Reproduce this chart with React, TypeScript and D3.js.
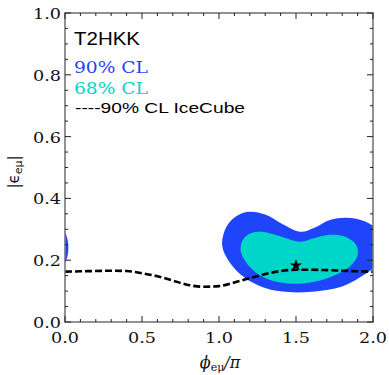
import React from "react";
import * as d3 from "d3";

const W = 389, H = 375;
const margin = { left: 65, top: 13, right: 16, bottom: 53 };

const xTicksMajor = [0, 0.5, 1.0, 1.5, 2.0];
const yTicksMajor = [0, 0.2, 0.4, 0.6, 0.8, 1.0];

// IceCube 90% CL curve
const iceX = [0, 0.1, 0.2, 0.3, 0.4, 0.5, 0.6, 0.7, 0.8, 0.9, 1.0, 1.1, 1.2, 1.3, 1.4, 1.5, 1.6, 1.7, 1.8, 1.9, 2.0];
const iceY = [0.163, 0.164, 0.165, 0.166, 0.165, 0.158, 0.148, 0.134, 0.12, 0.114, 0.116, 0.128, 0.142, 0.155, 0.165, 0.169, 0.169, 0.168, 0.166, 0.164, 0.163];

// 90% CL region outline (main blob)
const cl90X = [1.02, 1.05, 1.12, 1.2, 1.3, 1.42, 1.53, 1.62, 1.72, 1.83, 1.95, 2.05, 2.1, 2.04, 1.95, 1.8, 1.6, 1.45, 1.3, 1.15, 1.06];
const cl90Y = [0.25, 0.31, 0.345, 0.357, 0.348, 0.315, 0.292, 0.305, 0.33, 0.337, 0.325, 0.29, 0.24, 0.19, 0.155, 0.115, 0.098, 0.097, 0.11, 0.15, 0.2];
// 90% CL region piece wrapping at phi = 0
const cl90bX = [0, 0.015, 0.022, 0.015, 0, -0.02];
const cl90bY = [0.29, 0.27, 0.24, 0.21, 0.193, 0.24];

// 68% CL region outline
const cl68X = [1.14, 1.16, 1.21, 1.28, 1.38, 1.53, 1.62, 1.72, 1.82, 1.89, 1.9, 1.85, 1.72, 1.55, 1.4, 1.27, 1.18];
const cl68Y = [0.233, 0.27, 0.288, 0.292, 0.28, 0.26, 0.272, 0.282, 0.276, 0.25, 0.215, 0.18, 0.145, 0.125, 0.128, 0.15, 0.19];

const bestFit = { x: 1.5, y: 0.183 };

export default function App() {
  const x = d3.scaleLinear().domain([0, 2]).range([margin.left, W - margin.right]);
  const y = d3.scaleLinear().domain([0, 1]).range([H - margin.bottom, margin.top]);
  const [x0, x1] = x.range();
  const [y0, y1] = y.range();

  const closed = d3.line<[number, number]>().x(d => x(d[0])).y(d => y(d[1])).curve(d3.curveCatmullRomClosed.alpha(0.5));
  const open = d3.line<[number, number]>().x(d => x(d[0])).y(d => y(d[1])).curve(d3.curveMonotoneX);

  const zip = (a: number[], b: number[]) => a.map((v, i) => [v, b[i]] as [number, number]);

  const xMinor = d3.range(0, 2.0001, 0.1);
  const yMinor = d3.range(0, 1.0001, 0.05);
  const isMajor = (v: number, step: number) => Math.abs(v / step - Math.round(v / step)) < 1e-6;

  const star = d3.symbol().type(d3.symbolStar).size(45)();

  return (
    <svg width={W} height={H} style={{ display: "block", position: "absolute", left: 0, top: 0 }}>
      <defs>
        <clipPath id="plot">
          <rect x={x0} y={y1} width={x1 - x0} height={y0 - y1} />
        </clipPath>
      </defs>
      <rect width={W} height={H} fill="#fff" />
      <g clipPath="url(#plot)">
        <path d={closed(zip(cl90X, cl90Y)) || ""} fill="#1f45fb" />
        <path d={closed(zip(cl90bX, cl90bY)) || ""} fill="#1f45fb" />
        <path d={closed(zip(cl68X, cl68Y)) || ""} fill="#00d6c8" />
        <path d={open(zip(iceX, iceY)) || ""} fill="none" stroke="#000" strokeWidth={2.6} strokeDasharray="7,3" />
        <path d={star || ""} transform={`translate(${x(bestFit.x)},${y(bestFit.y)})`} fill="#000" />
      </g>
      {/* frame */}
      <rect x={x0} y={y1} width={x1 - x0} height={y0 - y1} fill="none" stroke="#777" strokeWidth={1.6} />
      {/* ticks */}
      {xMinor.map((v, i) => {
        const len = isMajor(v, 0.5) ? 6 : 3;
        return (
          <g key={"xt" + i} stroke="#222" strokeWidth={1}>
            <line x1={x(v)} x2={x(v)} y1={y0} y2={y0 - len} />
            <line x1={x(v)} x2={x(v)} y1={y1} y2={y1 + len} />
          </g>
        );
      })}
      {yMinor.map((v, i) => {
        const len = isMajor(v, 0.2) ? 6 : 3;
        return (
          <g key={"yt" + i} stroke="#222" strokeWidth={1}>
            <line x1={x0} x2={x0 + len} y1={y(v)} y2={y(v)} />
            <line x1={x1} x2={x1 - len} y1={y(v)} y2={y(v)} />
          </g>
        );
      })}
      {/* tick labels */}
      {xTicksMajor.map((v, i) => (
        <text key={"xl" + i} x={x(v)} y={343} textAnchor="middle" fontFamily="DejaVu Serif" fontSize={15} fill="#111" textLength={28} lengthAdjust="spacingAndGlyphs">
          {v.toFixed(1)}
        </text>
      ))}
      {yTicksMajor.map((v, i) => (
        <text key={"yl" + i} x={61} y={y(v) + 6} textAnchor="end" fontFamily="DejaVu Serif" fontSize={15} fill="#111" textLength={28} lengthAdjust="spacingAndGlyphs">
          {v.toFixed(1)}
        </text>
      ))}
      {/* axis labels */}
      <text x={220} y={368} textAnchor="middle" fontFamily="DejaVu Serif" fontSize={16} fill="#111">
        <tspan fontStyle="italic">ϕ</tspan>
        <tspan fontSize={11} dy={3}>eμ</tspan>
        <tspan dy={-3} fontStyle="italic">/π</tspan>
      </text>
      <text transform={`translate(19,172) rotate(-90)`} textAnchor="middle" fontFamily="DejaVu Sans" fontSize={15} fill="#111">
        <tspan>|ϵ</tspan>
        <tspan fontSize={11} dy={3}>eμ</tspan>
        <tspan dy={-3}>|</tspan>
      </text>
      {/* legend */}
      <text x={74} y={45} fontFamily="Liberation Sans" fontSize={18} fill="#000" textLength={66} lengthAdjust="spacingAndGlyphs">T2HKK</text>
      <text x={74} y={73} fontFamily="DejaVu Serif" fontSize={16} fill="#1f45fb" textLength={74} lengthAdjust="spacingAndGlyphs">90% CL</text>
      <text x={74} y={94} fontFamily="DejaVu Serif" fontSize={16} fill="#00d6c8" textLength={74} lengthAdjust="spacingAndGlyphs">68% CL</text>
      <text x={75} y={112.5} fontFamily="Liberation Sans" fontSize={15} fill="#000" textLength={170} lengthAdjust="spacingAndGlyphs">----90% CL IceCube</text>
    </svg>
  );
}
